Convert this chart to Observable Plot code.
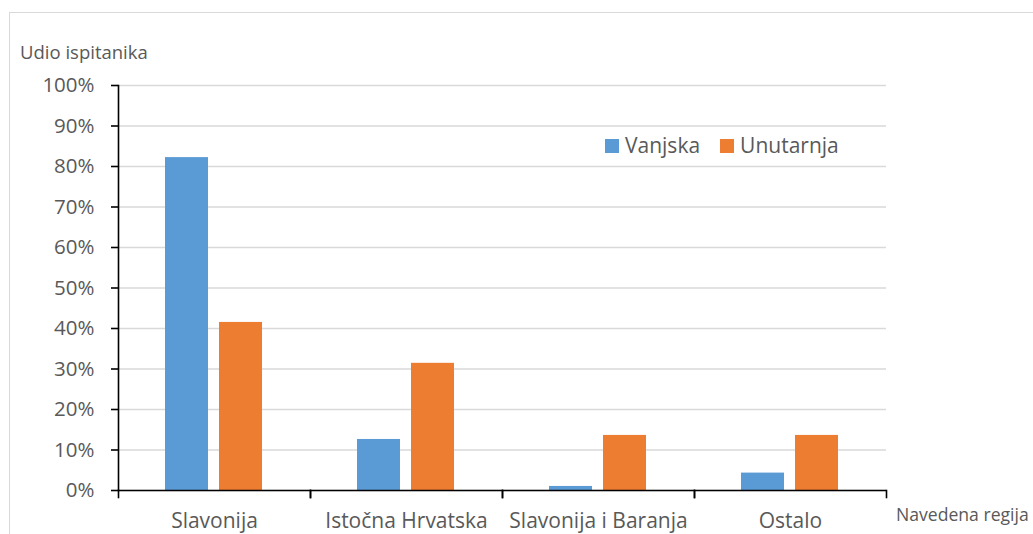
<!DOCTYPE html>
<html>
<head>
<meta charset="utf-8">
<script src="https://cdn.jsdelivr.net/npm/d3@7"></script>
<script src="https://cdn.jsdelivr.net/npm/@observablehq/plot@0.6"></script>
<style>
  html, body { margin: 0; padding: 0; background: #fff; overflow: hidden; }
  #wrap { position: relative; width: 1033px; height: 534px; font-family: "Open Sans", sans-serif; color: #595959; overflow: hidden; }
  #border { position: absolute; left: 9px; top: 12px; width: 1100px; height: 600px; border: 1.3px solid #d9d9d9; box-sizing: border-box; }
  #chart { position: absolute; left: 0; top: 0; }
  .ttl { position: absolute; font-size: 18.5px; white-space: nowrap; line-height: 1; }
  #legend { position: absolute; left: 605px; top: 135px; font-size: 21px; display: flex; align-items: center; white-space: nowrap; line-height: 1; }
  #legend .sw { display: inline-block; width: 14px; height: 14px; margin-right: 6px; }
  #legend .it { display: flex; align-items: center; margin-right: 20px; }
</style>
</head>
<body>
<div id="wrap">
  <div id="border"></div>
  <div id="chart"></div>
  <div class="ttl" id="ytitle" style="left:20px; top:43px;">Udio ispitanika</div>
  <div class="ttl" id="xtitle" style="left:896px; top:506px; font-size:17.6px;">Navedena regija</div>
  <div id="legend"></div>
</div>
<script>
const categories = ["Slavonija", "Istočna Hrvatska", "Slavonija i Baranja", "Ostalo"];
const series = ["Vanjska", "Unutarnja"];
const vanjska = [82.2, 12.6, 1.0, 4.3];
const unutarnja = [41.5, 31.4, 13.6, 13.6];
const yTicks = [0, 10, 20, 30, 40, 50, 60, 70, 80, 90, 100];
const colors = ["#5b9bd5", "#ed7d31"];
const yTitle = "Udio ispitanika";
const xTitle = "Navedena regija";

const data = categories.flatMap((c, i) => [
  {region: c, series: series[0], value: vanjska[i]},
  {region: c, series: series[1], value: unutarnja[i]}
]);

const chart = Plot.plot({
  width: 1033,
  height: 534,
  marginLeft: 117,
  marginRight: 146,
  marginTop: 85,
  marginBottom: 44,
  style: {fontFamily: "Open Sans, sans-serif", fontSize: "20px", background: "transparent"},
  fx: {domain: categories, padding: 0, label: null},
  x: {domain: series, paddingInner: 0.2, paddingOuter: 0.85, axis: null},
  y: {domain: [0, 100], label: null},
  color: {domain: series, range: colors},
  marks: [
    Plot.gridY(yTicks, {stroke: "#d9d9d9", strokeOpacity: 1, strokeWidth: 1.3}),
    Plot.barY(data, {fx: "region", x: "series", y: "value", fill: "series"}),
    Plot.ruleY([0], {stroke: "#000", strokeWidth: 1.6}),
    Plot.frame({anchor: "left", facetAnchor: "left", stroke: "#000", strokeWidth: 1.6}),
    Plot.frame({anchor: "left", insetTop: 405, insetBottom: -7, stroke: "#000", strokeWidth: 1.6}),
    Plot.frame({anchor: "right", insetTop: 405, insetBottom: -7, stroke: "#000", strokeWidth: 1.6}),
    Plot.axisY(yTicks, {tickSize: 7, tickFormat: () => "", stroke: "#000", strokeWidth: 1.6, label: null}),
    Plot.axisY(yTicks, {tickSize: 0, tickPadding: 24, tickFormat: d => d + "%", fill: "#595959", fontSize: 20.5, label: null}),
    Plot.axisFx({anchor: "bottom", tickSize: 0, tickPadding: 23, fill: "#595959", fontSize: 21, label: null})
  ]
});
document.getElementById("chart").appendChild(chart);
document.getElementById("ytitle").textContent = yTitle;
document.getElementById("xtitle").textContent = xTitle;

const legend = document.getElementById("legend");
series.forEach((s, i) => {
  const it = document.createElement("span");
  it.className = "it";
  const sw = document.createElement("span");
  sw.className = "sw";
  sw.style.background = colors[i];
  it.appendChild(sw);
  it.appendChild(document.createTextNode(s));
  legend.appendChild(it);
});
</script>
</body>
</html>
